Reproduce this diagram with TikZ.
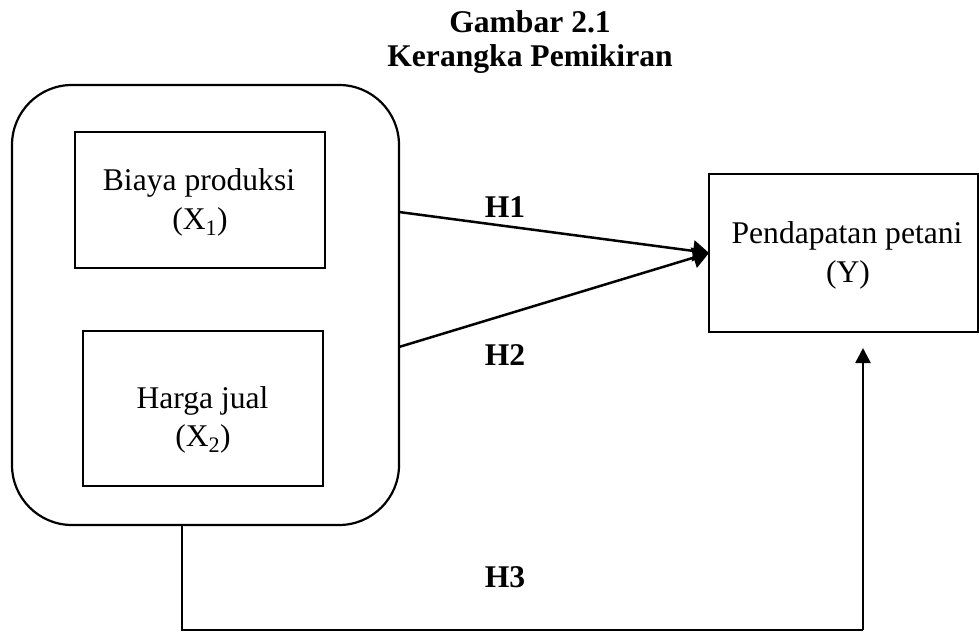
\documentclass[tikz,border=0pt]{standalone}
\usepackage{fontspec}
\setmainfont{Liberation Serif}
\usetikzlibrary{arrows.meta,calc}
\begin{document}
\begin{tikzpicture}[x=1pt,y=-1pt,
  txt/.style={font=\fontsize{31.6}{38}\selectfont, inner sep=0pt, anchor=base},
  btxt/.style={txt, font=\fontsize{31.6}{38}\selectfont\bfseries},
  boxshape/.style={draw, line width=2pt, outer sep=0pt, inner sep=0pt},
  conn/.style={line width=2.5pt},
  slanttip/.style={conn, -{Triangle[length=16pt,width=21pt]}},
  uptip/.style={conn, -{Triangle[length=15pt,width=15pt]}}]
\useasboundingbox (0,0) rectangle (979,639);
% title
\node[btxt] (t1) at (530,33) {Gambar 2.1};
\node[btxt] (t2) at (530,67) {Kerangka Pemikiran};
% group box
\node[boxshape, line width=2.2pt, rounded corners=60pt, minimum width=387pt, minimum height=440pt] (grp) at (205.5,305) {};
% box X1
\node[boxshape, minimum width=250pt, minimum height=136pt] (x1) at (200,200) {};
\node[txt] (x1a) at (199,190) {Biaya produksi};
\node[txt] (x1b) at (200,229) {(X\textsubscript{1})};
% box X2
\node[boxshape, minimum width=240pt, minimum height=155pt] (x2) at (203,408.5) {};
\node[txt] (x2a) at (202.5,408) {Harga jual};
\node[txt] (x2b) at (203,446) {(X\textsubscript{2})};
% box Y
\node[boxshape, minimum width=269pt, minimum height=158pt] (y) at (843.5,253) {};
\node[txt] (ya) at (847,243) {Pendapatan petani};
\node[txt] (yb) at (848,282) {(Y)};
% labels
\node[btxt] (h1) at (505,218) {H1};
\node[btxt] (h2) at (505,365) {H2};
\node[btxt] (h3) at (505,587) {H3};
% connectors
\coordinate (h1s) at (399,212);
\coordinate (h2s) at (399,347);
\coordinate (b1) at (182,630);
\coordinate (b2) at (863,630);
\coordinate (tipY) at (863,348);
\draw[slanttip] (h1s) -- (y.west);
\draw[slanttip] (h2s) -- (y.west);
\draw[conn] (grp.south -| b1) -- (b1) -- (b2);
\draw[uptip] (b2) -- (tipY);
\end{tikzpicture}
\end{document}
